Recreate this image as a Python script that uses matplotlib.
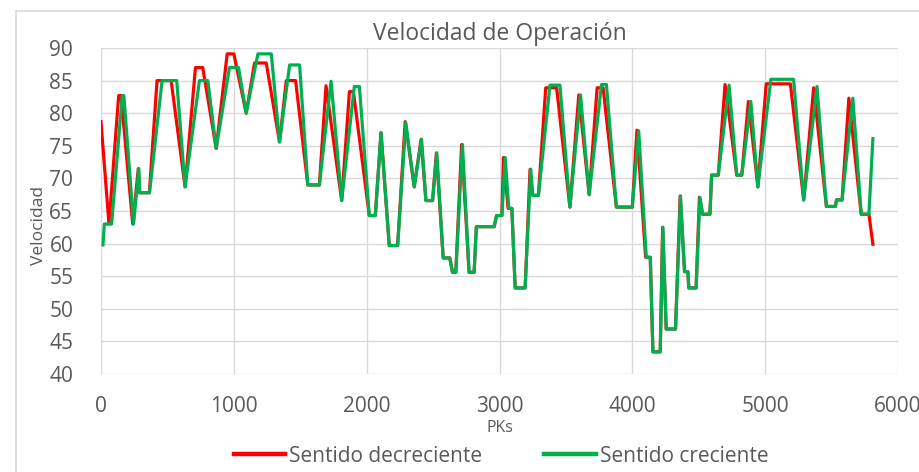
import matplotlib
matplotlib.use("Agg")
import matplotlib.pyplot as plt
from matplotlib.lines import Line2D

plt.rcParams['font.family'] = ['Open Sans', 'DejaVu Sans']

# PK (m) y velocidad (km/h), sentido decreciente
pk_dec = [0, 60, 133, 151, 239, 281, 289, 364, 422, 528, 633, 711, 766, 867, 950, 1000,
          1093, 1156, 1244, 1344, 1395, 1465, 1557, 1644, 1694, 1812, 1870, 1900, 2020, 2065,
          2108, 2170, 2233, 2290, 2358, 2410, 2446, 2496, 2525, 2576, 2626, 2646, 2671, 2715,
          2771, 2809, 2826, 2960, 2978, 3018, 3030, 3065, 3093, 3118, 3193, 3230, 3250, 3293,
          3348, 3430, 3530, 3597, 3675, 3735, 3780, 3880, 4000, 4035, 4100, 4135, 4155, 4210,
          4228, 4255, 4325, 4360, 4393, 4418, 4425, 4480, 4505, 4529, 4584, 4597, 4647, 4698,
          4786, 4824, 4874, 4945, 5008, 5190, 5290, 5365, 5461, 5529, 5537, 5579, 5630, 5723,
          5781, 5811]
vel_dec = [78.7, 63, 82.7, 82.7, 63, 71.5, 67.8, 67.8, 85, 85, 68.7, 87, 87, 74.6, 89.1, 89.1,
           80, 87.7, 87.7, 75.6, 85, 85, 69, 69, 84.2, 66.6, 83.3, 83.3, 64.3, 64.3,
           77, 59.7, 59.7, 78.7, 68.7, 76, 66.6, 66.6, 73.9, 57.8, 57.8, 55.6, 55.6, 75.2,
           55.6, 55.6, 62.6, 62.6, 64.3, 64.3, 73.2, 65.4, 65.4, 53.2, 53.2, 71.4, 67.4, 67.4,
           83.9, 83.9, 65.6, 82.8, 67.5, 83.9, 83.9, 65.6, 65.6, 77.4, 57.9, 57.9, 43.4, 43.4,
           62.5, 46.9, 46.9, 67.3, 55.7, 55.7, 53.2, 53.2, 67.1, 64.5, 64.5, 70.5, 70.5, 84.4,
           70.5, 70.5, 81.8, 68.7, 84.5, 84.5, 66.7, 83.9, 65.7, 65.7, 66.7, 66.7, 82.3, 64.5,
           64.5, 59.9]

# sentido creciente
pk_cre = [15, 25, 80, 160, 172, 245, 285, 292, 365, 460, 570, 633, 741, 804, 867, 967,
          1035, 1093, 1181, 1282, 1344, 1420, 1495, 1557, 1644, 1732, 1812, 1907, 1945, 2020,
          2065, 2108, 2170, 2233, 2295, 2358, 2413, 2446, 2496, 2528, 2576, 2626, 2646, 2671,
          2721, 2771, 2809, 2826, 2960, 2978, 3018, 3043, 3070, 3093, 3118, 3193, 3235, 3250,
          3293, 3380, 3455, 3530, 3610, 3675, 3768, 3805, 3880, 4000, 4048, 4105, 4135, 4155,
          4210, 4230, 4255, 4325, 4363, 4393, 4418, 4425, 4480, 4509, 4529, 4584, 4597, 4647,
          4728, 4786, 4824, 4892, 4945, 5043, 5214, 5290, 5390, 5461, 5529, 5537, 5579, 5660,
          5723, 5781, 5811]
vel_cre = [59.8, 63, 63, 82.7, 82.7, 63, 71.5, 67.8, 67.8, 85, 85, 68.7, 85, 85, 74.6, 87,
           87, 80, 89.1, 89.1, 75.6, 87.4, 87.4, 69, 69, 84.9, 66.6, 84.1, 84.1, 64.3,
           64.3, 77, 59.7, 59.7, 78.5, 68.7, 76, 66.6, 66.6, 73.9, 57.8, 57.8, 55.6, 55.6,
           75.2, 55.6, 55.6, 62.6, 62.6, 64.3, 64.3, 73.2, 65.4, 65.4, 53.2, 53.2, 71.4, 67.4,
           67.4, 84.3, 84.3, 65.6, 82.8, 67.5, 84.4, 84.4, 65.6, 65.6, 77.3, 57.9, 57.9, 43.4,
           43.4, 62.5, 46.9, 46.9, 67.3, 55.7, 55.7, 53.2, 53.2, 67.1, 64.5, 64.5, 70.5, 70.5,
           84.3, 70.5, 70.5, 81.8, 68.7, 85.2, 85.2, 66.7, 84.1, 65.7, 65.7, 66.7, 66.7, 82.3,
           64.5, 64.5, 76.1]

x_ticks = [0, 1000, 2000, 3000, 4000, 5000, 6000]
y_ticks = [40, 45, 50, 55, 60, 65, 70, 75, 80, 85, 90]

grey = "#595959"
grid = "#d9d9d9"

fig = plt.figure(figsize=(9.19, 4.72), dpi=100)
ax = fig.add_axes([101/919, 1 - 374/472, 797/919, 326/472])

ax.plot(pk_dec, vel_dec, color="#ff0000", lw=2.3, label="Sentido decreciente", solid_joinstyle="round")
ax.plot(pk_cre, vel_cre, color="#00b050", lw=2.3, label="Sentido creciente", solid_joinstyle="round")

ax.set_xlim(0, 6000)
ax.set_ylim(40, 90)
ax.set_xticks(x_ticks)
ax.set_yticks(y_ticks)
ax.grid(True, color=grid, lw=1.0)
ax.set_axisbelow(True)
for s in ax.spines.values():
    s.set_visible(False)
ax.tick_params(length=0, labelsize=15, colors=grey, pad=16)
ax.tick_params(axis="y", pad=20)

ax.set_xlabel("PKs", fontsize=11.5, color=grey)
ax.xaxis.set_label_coords(0.5, -0.142)
ax.set_ylabel("Velocidad", fontsize=12.5, color=grey)
ax.yaxis.set_label_coords(-0.068, 0.457)
ax.set_title("Velocidad de Operación", fontsize=16.5, color=grey, pad=6)

fig.legend(loc="center", bbox_to_anchor=(501/919, 1 - 456/472), ncol=2, frameon=False,
           fontsize=15, handlelength=2.45, handletextpad=0.2, columnspacing=3.0,
           labelcolor=grey)
for h in fig.legends[0].get_lines():
    h.set_linewidth(3.2)

# marco del gráfico
fig.add_artist(Line2D([16/919, 16/919], [0, 1 - 11/472], color=grid, lw=1.2))
fig.add_artist(Line2D([16/919, 1], [1 - 11/472, 1 - 11/472], color=grid, lw=1.2))

fig.savefig("out.png", dpi=100)
